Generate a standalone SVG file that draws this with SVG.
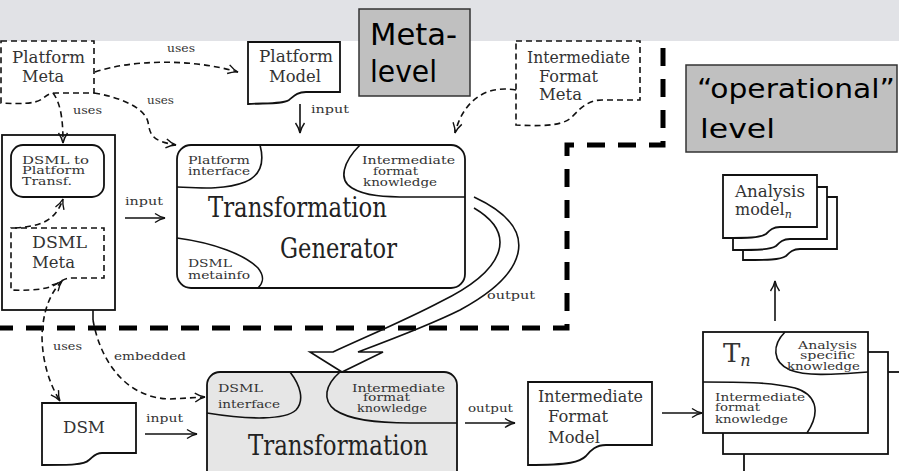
<svg xmlns="http://www.w3.org/2000/svg" width="899" height="471" viewBox="0 0 899 471">
<style>
.ln{fill:none;stroke:#111;stroke-width:1.6}
.dl{fill:none;stroke:#111;stroke-width:1.6;stroke-dasharray:6 4}
.bx{fill:#fff;stroke:#111;stroke-width:1.8}
.db{fill:#fff;stroke:#111;stroke-width:1.6;stroke-dasharray:6 4}
.t{fill:#333;font-family:'DejaVu Serif',serif}
.m{font-size:16px}
.s{font-size:10.5px}
.b{font-size:27px;fill:#222}
.c{fill:#000;font-family:'DejaVu Sans',sans-serif}
</style>
<defs>
<marker id="ar" viewBox="0 0 12 12" refX="11" refY="6" markerWidth="12" markerHeight="12" markerUnits="userSpaceOnUse" orient="auto-start-reverse">
<path d="M1,1.5 Q6,5 11,6 Q6,7 1,10.5" fill="none" stroke="#111" stroke-width="1.4" stroke-dasharray="none"/>
</marker>
<path id="doc" d="M0,0 H94 V52 H57 C50,52 47,55 43,59 C37,63 25,63 0,63 Z"/>
</defs>

<rect x="0" y="0" width="899" height="41" fill="#e1e2e6"/>

<path d="M663,48 V145 H567 V328 H0" fill="none" stroke="#000" stroke-width="5" stroke-dasharray="18 13"/>

<g id="platform-meta">
<path class="db" d="M1,41 H94 V93 H56 C48,93 46,96 42,99 C35,104 20,104 1,103 Z"/>
<text class="t m" x="12" y="63" textLength="73" lengthAdjust="spacingAndGlyphs">Platform</text>
<text class="t m" x="22" y="82" textLength="42" lengthAdjust="spacingAndGlyphs">Meta</text>
</g>

<g id="platform-model">
<path class="bx" d="M248,42 H340 V92 H306 C297,92 294,96 289,100 C283,104 268,103 248,104 Z"/>
<text class="t m" x="259" y="62" textLength="74" lengthAdjust="spacingAndGlyphs">Platform</text>
<text class="t m" x="269" y="82" textLength="52" lengthAdjust="spacingAndGlyphs">Model</text>
</g>

<g id="intermediate-format-meta">
<path class="db" d="M516,41 H640 V100 H602 C590,100 582,106 572,117 C565,124 550,127 516,125 Z"/>
<text class="t m" x="527" y="63" textLength="103" lengthAdjust="spacingAndGlyphs">Intermediate</text>
<text class="t m" x="539" y="82" textLength="59" lengthAdjust="spacingAndGlyphs">Format</text>
<text class="t m" x="539" y="100" textLength="43" lengthAdjust="spacingAndGlyphs">Meta</text>
</g>

<g id="dsml-platform-container">
<rect class="bx" x="2" y="135" width="113" height="175"/>
</g>

<g id="dsml-to-platform-transf">
<rect class="bx" x="11" y="145" width="93" height="52" rx="12"/>
<text class="t s" x="22" y="164" textLength="67" lengthAdjust="spacingAndGlyphs">DSML to</text>
<text class="t s" x="22" y="174" textLength="63" lengthAdjust="spacingAndGlyphs">Platform</text>
<text class="t s" x="22" y="185" textLength="50" lengthAdjust="spacingAndGlyphs">Transf.</text>
</g>

<g id="dsml-meta">
<path class="db" d="M11,228 H104 V278 H72 C66,278 63,280 58,283 C50,288 40,291 11,290 Z"/>
<text class="t m" x="32" y="248" textLength="55" lengthAdjust="spacingAndGlyphs">DSML</text>
<text class="t m" x="32" y="268" textLength="43" lengthAdjust="spacingAndGlyphs">Meta</text>
</g>

<g id="transformation-generator">
<rect class="bx" x="177" y="145" width="288" height="143" rx="14"/>
<path class="ln" d="M177,187 C200,188 225,190 245,182 C262,175 264,160 260,145"/>
<path class="ln" d="M360,145 C343,162 338,180 352,188 C365,196 385,197 410,197 L465,197"/>
<path class="ln" d="M177,238 C215,243 245,255 258,268 C266,278 262,284 258,288"/>
<text class="t s" x="188" y="164" textLength="62" lengthAdjust="spacingAndGlyphs">Platform</text>
<text class="t s" x="188" y="175" textLength="62" lengthAdjust="spacingAndGlyphs">interface</text>
<text class="t s" x="362" y="164" textLength="93" lengthAdjust="spacingAndGlyphs">Intermediate</text>
<text class="t s" x="373" y="175" textLength="45" lengthAdjust="spacingAndGlyphs">format</text>
<text class="t s" x="363" y="186" textLength="74" lengthAdjust="spacingAndGlyphs">knowledge</text>
<text class="t s" x="188" y="267" textLength="44" lengthAdjust="spacingAndGlyphs">DSML</text>
<text class="t s" x="188" y="279" textLength="62" lengthAdjust="spacingAndGlyphs">metainfo</text>
<text class="t b" x="208" y="217" textLength="179" lengthAdjust="spacingAndGlyphs">Transformation</text>
<text class="t b" x="280" y="258" textLength="117" lengthAdjust="spacingAndGlyphs">Generator</text>
</g>

<g id="analysis-model">
<use href="#doc" class="bx" transform="translate(743,197)"/>
<use href="#doc" class="bx" transform="translate(733,187)"/>
<use href="#doc" class="bx" transform="translate(723,175)"/>
<text class="t m" x="735" y="197" textLength="70" lengthAdjust="spacingAndGlyphs">Analysis</text>
<text class="t m" x="735" y="215">model<tspan font-style="italic" font-size="11" dy="3">n</tspan></text>
</g>

<g id="dsm">
<path class="bx" d="M42,403 H136 V453 H102 C95,453 93,457 89,460 C84,465 70,465 42,465 Z"/>
<text class="t m" x="63" y="433" textLength="42" lengthAdjust="spacingAndGlyphs">DSM</text>
</g>

<g id="transformation">
<rect x="207" y="372" width="250" height="130" rx="13" fill="#e6e6e6" stroke="#111" stroke-width="1.8"/>
<path class="ln" d="M290,372 C300,385 305,400 296,410 C285,420 250,420 207,413"/>
<path class="ln" d="M340,372 C325,385 322,400 335,410 C350,420 375,423 410,423 L457,423"/>
<text class="t s" x="218" y="392" textLength="45" lengthAdjust="spacingAndGlyphs">DSML</text>
<text class="t s" x="218" y="408" textLength="62" lengthAdjust="spacingAndGlyphs">interface</text>
<text class="t s" x="352" y="392" textLength="93" lengthAdjust="spacingAndGlyphs">Intermediate</text>
<text class="t s" x="363" y="401" textLength="47" lengthAdjust="spacingAndGlyphs">format</text>
<text class="t s" x="357" y="412" textLength="70" lengthAdjust="spacingAndGlyphs">knowledge</text>
<text class="t b" x="248" y="455" textLength="180" lengthAdjust="spacingAndGlyphs">Transformation</text>
</g>

<g id="intermediate-format-model">
<path class="bx" d="M528,382 H652 V445 H606 C596,445 591,450 586,456 C580,462 570,465 528,465 Z"/>
<text class="t m" x="538" y="402" textLength="105" lengthAdjust="spacingAndGlyphs">Intermediate</text>
<text class="t m" x="548" y="422" textLength="60" lengthAdjust="spacingAndGlyphs">Format</text>
<text class="t m" x="548" y="443" textLength="52" lengthAdjust="spacingAndGlyphs">Model</text>
</g>

<g id="tn">
<rect class="bx" x="744" y="372" width="200" height="130"/>
<rect class="bx" x="723" y="352" width="165" height="102"/>
<rect class="bx" x="703" y="332" width="165" height="101"/>
<path class="ln" d="M785,332 C772,345 772,362 790,370 C805,376 830,375 868,372"/>
<path class="ln" d="M703,382 C740,382 770,382 795,388 C815,394 822,410 807,433"/>
<text class="t" x="723" y="362" font-size="26" fill="#222">T<tspan font-style="italic" font-size="16" dy="4">n</tspan></text>
<text class="t s" x="798" y="349" textLength="59" lengthAdjust="spacingAndGlyphs">Analysis</text>
<text class="t s" x="800" y="359" textLength="55" lengthAdjust="spacingAndGlyphs">specific</text>
<text class="t s" x="787" y="370" textLength="73" lengthAdjust="spacingAndGlyphs">knowledge</text>
<text class="t s" x="715" y="401" textLength="90" lengthAdjust="spacingAndGlyphs">Intermediate</text>
<text class="t s" x="715" y="411" textLength="45" lengthAdjust="spacingAndGlyphs">format</text>
<text class="t s" x="715" y="423" textLength="73" lengthAdjust="spacingAndGlyphs">knowledge</text>
</g>

<g id="connectors">
<path class="dl" d="M95,72 C130,60 190,58 238,72" marker-end="url(#ar)"/>
<path class="dl" d="M94,93 C120,97 145,108 148,122 C150,135 152,141 176,145" marker-end="url(#ar)"/>
<path class="dl" d="M53,93 C62,105 63,125 63,143" marker-end="url(#ar)"/>
<path class="ln" d="M300,104 V133" marker-end="url(#ar)"/>
<path class="dl" d="M516,90 C482,84 462,105 455,133" marker-end="url(#ar)"/>
<path class="dl" d="M15,228 C40,226 55,222 63,199" marker-end="url(#ar)"/>
<path class="ln" d="M125,218 H165" marker-end="url(#ar)"/>
<path class="dl" d="M62,281 C48,295 43,315 42,335 C42,362 50,385 60,401" marker-start="url(#ar)" marker-end="url(#ar)"/>
<path class="ln" d="M93,310 V320"/>
<path class="dl" d="M93,320 C100,360 125,398 170,399 L205,397" marker-end="url(#ar)"/>
<path class="ln" d="M145,434 H197" marker-end="url(#ar)"/>
<path class="ln" d="M474,197 C545,230 525,275 460,310 C430,325 390,340 358,352 L383,352 L342,372 L310,352 L333,352 C370,335 410,318 440,302 C510,268 515,232 474,208"/>
<path class="ln" d="M465,423 H515" marker-end="url(#ar)"/>
<path class="ln" d="M662,413 H702" marker-end="url(#ar)"/>
<path class="ln" d="M775,321 V281" marker-end="url(#ar)"/>
<text class="t s" x="167" y="52" textLength="28" lengthAdjust="spacingAndGlyphs">uses</text>
<text class="t s" x="147" y="104" textLength="27" lengthAdjust="spacingAndGlyphs">uses</text>
<text class="t s" x="73" y="114" textLength="29" lengthAdjust="spacingAndGlyphs">uses</text>
<text class="t s" x="311" y="113" textLength="38" lengthAdjust="spacingAndGlyphs">input</text>
<text class="t s" x="125" y="205" textLength="38" lengthAdjust="spacingAndGlyphs">input</text>
<text class="t s" x="487" y="299" textLength="48" lengthAdjust="spacingAndGlyphs">output</text>
<text class="t s" x="53" y="350" textLength="29" lengthAdjust="spacingAndGlyphs">uses</text>
<text class="t s" x="114" y="360" textLength="72" lengthAdjust="spacingAndGlyphs">embedded</text>
<text class="t s" x="146" y="422" textLength="37" lengthAdjust="spacingAndGlyphs">input</text>
<text class="t s" x="468" y="412" textLength="45" lengthAdjust="spacingAndGlyphs">output</text>
</g>

<g id="meta-level-label">
<rect x="359" y="9" width="111" height="87" fill="#c0c0c0" stroke="#333" stroke-width="1.5"/>
<text class="c" x="370" y="45" font-size="31" textLength="87" lengthAdjust="spacingAndGlyphs">Meta-</text>
<text class="c" x="370" y="82" font-size="31" textLength="67" lengthAdjust="spacingAndGlyphs">level</text>
</g>
<g id="operational-level-label">
<rect x="686" y="65" width="211" height="87" fill="#c0c0c0" stroke="#333" stroke-width="1.5"/>
<text class="c" x="697" y="98" font-size="27" textLength="198" lengthAdjust="spacingAndGlyphs">“operational”</text>
<text class="c" x="700" y="138" font-size="27" textLength="75" lengthAdjust="spacingAndGlyphs">level</text>
</g>
</svg>
